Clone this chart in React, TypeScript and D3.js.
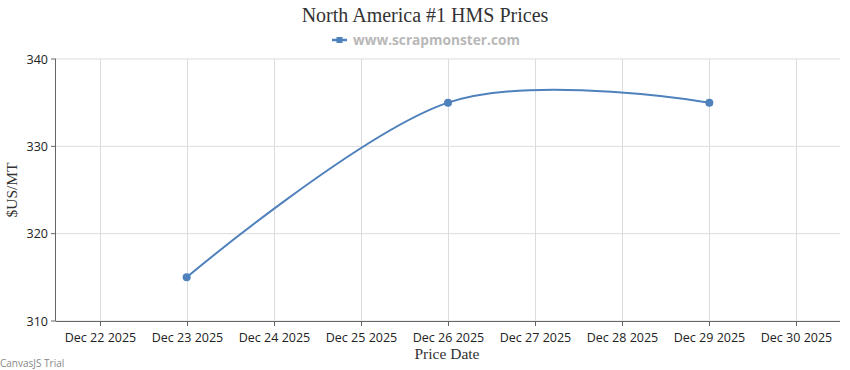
import React from "react";
import * as d3 from "d3";

const dates = ["2025-12-23", "2025-12-26", "2025-12-29"];
const prices = [315, 335, 335];
const xTickDays = [22, 23, 24, 25, 26, 27, 28, 29, 30];
const yTicks = [310, 320, 330, 340];

const W = 850, H = 370;
const M = { left: 56, right: 840, top: 59, bottom: 321 };

export default function App() {
  const parse = (s: string) => new Date(s + "T00:00:00");
  const x = d3.scaleTime()
    .domain([new Date(2025, 11, 21, 12), new Date(2025, 11, 30, 12)])
    .range([M.left, M.right]);
  const y = d3.scaleLinear().domain([310, 340]).range([M.bottom, M.top]);
  const pts = dates.map((d, i) => [x(parse(d)), y(prices[i])] as [number, number]);
  const line = d3.line().curve(d3.curveCardinal.tension(0));
  const color = "#4F81BC";
  const tickFont = "'Open Sans', 'DejaVu Sans', sans-serif";
  return (
    <svg width={W} height={H} style={{ position: "absolute", left: 0, top: 0, background: "#fff" }}>
      <text x={425} y={22} textAnchor="middle" fontFamily="'Liberation Serif', serif" fontSize={20} fill="#333">
        North America #1 HMS Prices
      </text>
      <g>
        <line x1={332} x2={347} y1={40} y2={40} stroke={color} strokeWidth={2.5} />
        <rect x={336.5} y={37} width={6} height={6} fill={color} />
        <text x={353} y={45} fontFamily="'Open Sans', sans-serif" fontWeight="bold" fontSize={13.7} fill="#b8b8b8">
          www.scrapmonster.com
        </text>
      </g>
      {yTicks.map((t) => (
        <g key={t}>
          <line x1={M.left} x2={M.right} y1={y(t)} y2={y(t)} stroke="#dcdcdc" strokeWidth={1} />
          <line x1={M.left - 5} x2={M.left} y1={y(t)} y2={y(t)} stroke="#666" strokeWidth={1} />
          <text x={M.left - 8} y={y(t) + 4.5} textAnchor="end" fontFamily={tickFont} fontSize={12.5} fill="#222">
            {t}
          </text>
        </g>
      ))}
      {xTickDays.map((dd) => {
        const xx = Math.round(x(new Date(2025, 11, dd))) + 0.5;
        return (
          <g key={dd}>
            <line x1={xx} x2={xx} y1={M.top} y2={M.bottom} stroke="#dcdcdc" strokeWidth={1} />
            <line x1={xx} x2={xx} y1={M.bottom} y2={M.bottom + 5} stroke="#666" strokeWidth={1} />
            <text x={xx} y={M.bottom + 21} textAnchor="middle" fontFamily={tickFont} fontSize={12.5} fill="#222">
              {`Dec ${dd} 2025`}
            </text>
          </g>
        );
      })}
      <line x1={M.left - 0.5} x2={M.left - 0.5} y1={M.top} y2={M.bottom} stroke="#666" strokeWidth={1} />
      <line x1={M.left} x2={M.right} y1={M.bottom + 0.5} y2={M.bottom + 0.5} stroke="#666" strokeWidth={1} />
      <path d={line(pts) || ""} fill="none" stroke={color} strokeWidth={2} />
      {pts.map((p, i) => (
        <circle key={i} cx={p[0]} cy={p[1]} r={4} fill={color} />
      ))}
      <text x={447} y={359} textAnchor="middle" fontFamily="'Liberation Serif', serif" fontSize={15.5} fill="#333">
        Price Date
      </text>
      <text transform={`translate(17,190) rotate(-90)`} textAnchor="middle" fontFamily="'Liberation Serif', serif" fontSize={15.5} fill="#333">
        $US/MT
      </text>
      <text x={0} y={367} fontFamily="'Open Sans', sans-serif" fontSize={10} fill="#888">
        CanvasJS Trial
      </text>
    </svg>
  );
}
